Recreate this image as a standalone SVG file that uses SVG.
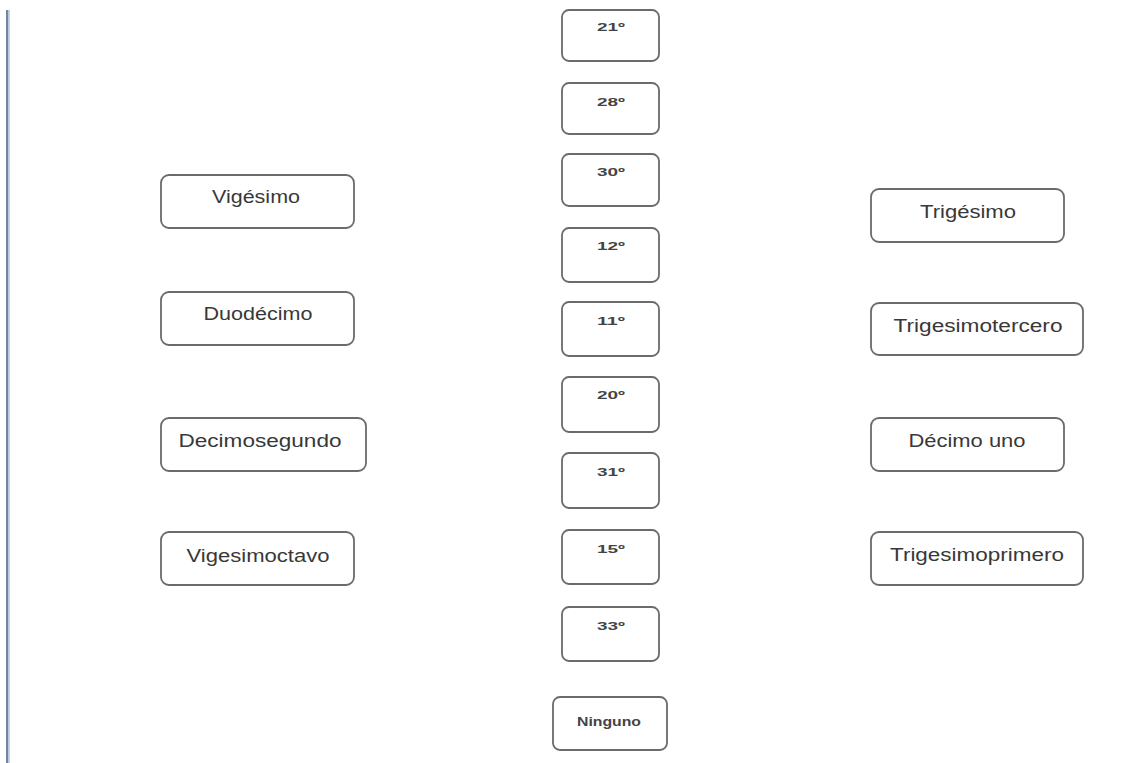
<svg xmlns="http://www.w3.org/2000/svg" width="1141" height="763" viewBox="0 0 1141 763">
<style>
.box{fill:#ffffff;stroke:#6b6b6b;stroke-width:1.8}
.lbl{font-family:"Liberation Sans",Arial,sans-serif;font-size:17.5px;fill:#383838;text-anchor:middle}
.num{font-family:"Liberation Sans",Arial,sans-serif;font-size:11px;fill:#444444;text-anchor:middle;font-weight:bold}
</style>
<rect x="0" y="0" width="1141" height="763" fill="#ffffff"/>
<rect x="6" y="10" width="2.5" height="753" fill="#6f86a8"/>
<rect x="8.5" y="10" width="1.5" height="753" fill="#c9d1dc"/>
<g id="connectors"></g>
<g id="n21"><rect class="box" x="562" y="10" width="97" height="51" rx="7"/><text class="num" x="611" y="31" textLength="28" lengthAdjust="spacingAndGlyphs">21º</text></g>
<g id="n28"><rect class="box" x="562" y="83" width="97" height="51" rx="7"/><text class="num" x="611" y="106" textLength="28" lengthAdjust="spacingAndGlyphs">28º</text></g>
<g id="n30"><rect class="box" x="562" y="154" width="97" height="52" rx="7"/><text class="num" x="611" y="176" textLength="28" lengthAdjust="spacingAndGlyphs">30º</text></g>
<g id="n12"><rect class="box" x="562" y="228" width="97" height="54" rx="7"/><text class="num" x="611" y="250" textLength="28" lengthAdjust="spacingAndGlyphs">12º</text></g>
<g id="n11"><rect class="box" x="562" y="302" width="97" height="54" rx="7"/><text class="num" x="611" y="325" textLength="28" lengthAdjust="spacingAndGlyphs">11º</text></g>
<g id="n20"><rect class="box" x="562" y="377" width="97" height="55" rx="7"/><text class="num" x="611" y="399" textLength="28" lengthAdjust="spacingAndGlyphs">20º</text></g>
<g id="n31"><rect class="box" x="562" y="453" width="97" height="55" rx="7"/><text class="num" x="611" y="476" textLength="28" lengthAdjust="spacingAndGlyphs">31º</text></g>
<g id="n15"><rect class="box" x="562" y="530" width="97" height="54" rx="7"/><text class="num" x="611" y="553" textLength="28" lengthAdjust="spacingAndGlyphs">15º</text></g>
<g id="n33"><rect class="box" x="562" y="607" width="97" height="54" rx="7"/><text class="num" x="611" y="630" textLength="28" lengthAdjust="spacingAndGlyphs">33º</text></g>
<g id="ninguno"><rect class="box" x="553" y="697" width="114" height="53" rx="7"/><text class="num" x="609" y="726" textLength="64" lengthAdjust="spacingAndGlyphs" style="font-size:12px">Ninguno</text></g>
<g id="vigesimo"><rect class="box" x="161" y="175" width="193" height="53" rx="8"/><text class="lbl" x="256" y="203" textLength="88" lengthAdjust="spacingAndGlyphs">Vigésimo</text></g>
<g id="duodecimo"><rect class="box" x="161" y="292" width="193" height="53" rx="8"/><text class="lbl" x="258" y="320" textLength="109" lengthAdjust="spacingAndGlyphs">Duodécimo</text></g>
<g id="decimosegundo"><rect class="box" x="161" y="418" width="205" height="53" rx="8"/><text class="lbl" x="260" y="447" textLength="163" lengthAdjust="spacingAndGlyphs">Decimosegundo</text></g>
<g id="vigesimoctavo"><rect class="box" x="161" y="532" width="193" height="53" rx="8"/><text class="lbl" x="258" y="562" textLength="143" lengthAdjust="spacingAndGlyphs">Vigesimoctavo</text></g>
<g id="trigesimo"><rect class="box" x="871" y="189" width="193" height="53" rx="8"/><text class="lbl" x="968" y="218" textLength="96" lengthAdjust="spacingAndGlyphs">Trigésimo</text></g>
<g id="trigesimotercero"><rect class="box" x="871" y="303" width="212" height="52" rx="8"/><text class="lbl" x="978" y="332" textLength="169" lengthAdjust="spacingAndGlyphs">Trigesimotercero</text></g>
<g id="decimouno"><rect class="box" x="871" y="418" width="193" height="53" rx="8"/><text class="lbl" x="967" y="447" textLength="117" lengthAdjust="spacingAndGlyphs">Décimo uno</text></g>
<g id="trigesimoprimero"><rect class="box" x="871" y="532" width="212" height="53" rx="8"/><text class="lbl" x="977" y="561" textLength="174" lengthAdjust="spacingAndGlyphs">Trigesimoprimero</text></g>
</svg>
